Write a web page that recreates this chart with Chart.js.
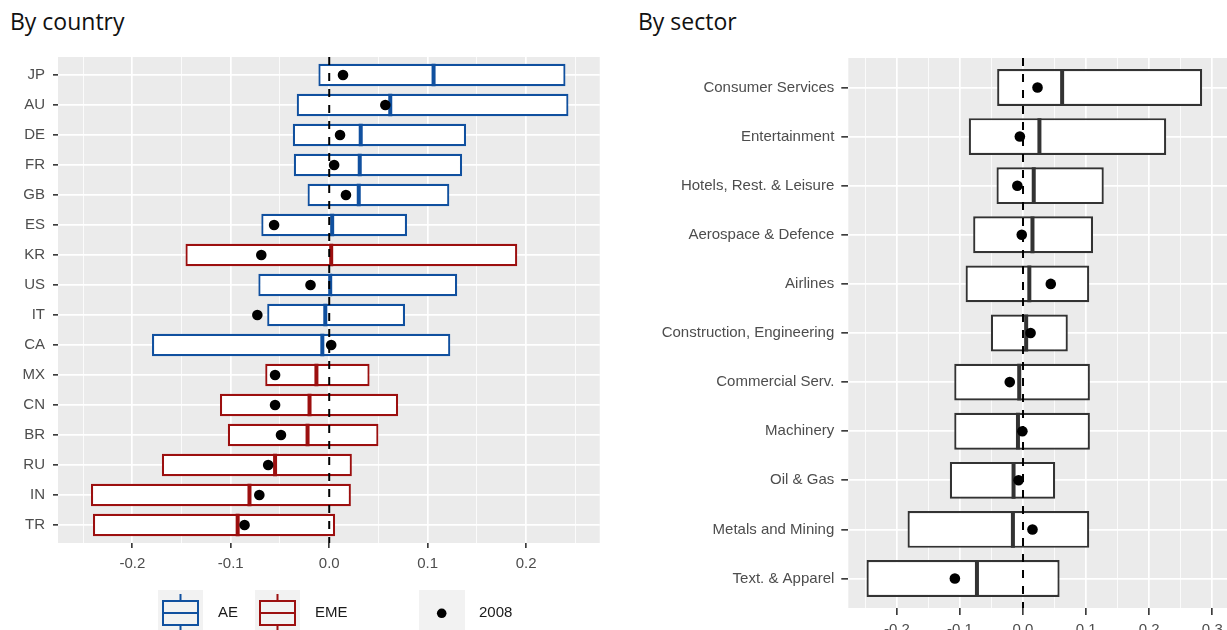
<!DOCTYPE html>
<html>
<head>
<meta charset="utf-8">
<title>By country / By sector</title>
<script src="https://cdn.jsdelivr.net/npm/chart.js@4.4.1/dist/chart.umd.min.js"></script>
<style>
  html, body { margin: 0; padding: 0; background: #fff; overflow: hidden; }
  body { width: 1227px; height: 630px; position: relative; }
  .title {
    position: absolute; top: 10px;
    font-family: "Open Sans", "Noto Sans", sans-serif;
    font-size: 23px; line-height: 23px; color: #111; white-space: nowrap;
  }
  #countryWrap { position: absolute; left: 0; top: 0; width: 615px; height: 630px; }
  #sectorWrap { position: absolute; left: 620px; top: 0; width: 657px; height: 650px; }
</style>
</head>
<body>
<div class="title" style="left:10px">By country</div>
<div class="title" style="left:638px">By sector</div>
<div id="countryWrap"><canvas id="countryChart"></canvas></div>
<div id="sectorWrap"><canvas id="sectorChart"></canvas></div>

<script>
/* =========================
   DATA – BY COUNTRY
========================= */
const countries = ["JP", "AU", "DE", "FR", "GB", "ES", "KR", "US", "IT", "CA", "MX", "CN", "BR", "RU", "IN", "TR"];
const countryGroup = ["AE", "AE", "AE", "AE", "AE", "AE", "EME", "AE", "AE", "AE", "EME", "EME", "EME", "EME", "EME", "EME"];
const countryLow = [-0.011, -0.033, -0.037, -0.036, -0.022, -0.069, -0.146, -0.072, -0.063, -0.180, -0.065, -0.111, -0.103, -0.170, -0.242, -0.240];
const countryMedian = [0.106, 0.062, 0.032, 0.031, 0.030, 0.003, 0.002, 0.001, -0.004, -0.007, -0.013, -0.020, -0.022, -0.055, -0.081, -0.093];
const countryHigh = [0.240, 0.243, 0.139, 0.135, 0.122, 0.079, 0.191, 0.130, 0.077, 0.123, 0.041, 0.070, 0.050, 0.023, 0.022, 0.006];
const country2008 = [0.014, 0.057, 0.011, 0.005, 0.017, -0.056, -0.069, -0.019, -0.073, 0.002, -0.055, -0.055, -0.049, -0.062, -0.071, -0.086];

/* =========================
   DATA – BY SECTOR
========================= */
const sectors = ["Consumer Services", "Entertainment", "Hotels, Rest. & Leisure", "Aerospace & Defence", "Airlines",
  "Construction, Engineering", "Commercial Serv.", "Machinery", "Oil & Gas", "Metals and Mining", "Text. & Apparel"];
const sectorLow = [-0.041, -0.086, -0.042, -0.079, -0.091, -0.051, -0.109, -0.109, -0.116, -0.183, -0.248];
const sectorMedian = [0.062, 0.026, 0.017, 0.015, 0.010, 0.005, -0.006, -0.008, -0.015, -0.016, -0.073];
const sectorHigh = [0.284, 0.227, 0.128, 0.111, 0.105, 0.071, 0.106, 0.106, 0.051, 0.105, 0.058];
const sector2008 = [0.023, -0.005, -0.009, -0.002, 0.044, 0.012, -0.021, -0.001, -0.007, 0.015, -0.108];

const groupNames = ["AE", "EME"];
const dotLabel = "2008";
const zeroRef = 0;

const groupColors = { AE: "#10509f", EME: "#9c0f0f" };
const sectorColor = "#333333";
const tickFont = { family: "'Liberation Sans', Arial, sans-serif", size: 15 };

const isMajor = (v) => Math.abs(Math.round(v * 20)) % 2 === 0;
const tickIsMajor = (c) => !c || !c.tick || isMajor(c.tick.value);

// grey ggplot-style panel behind the plot area
const panelBg = {
  id: "panelBg",
  beforeDraw(chart) {
    const { ctx, chartArea: a } = chart;
    ctx.save();
    ctx.fillStyle = "#ebebeb";
    ctx.fillRect(a.left, a.top, a.right - a.left, a.bottom - a.top);
    ctx.restore();
  }
};

function boxPanel(el, o) {
  const n = o.cats.length;
  const yMin = -0.6;
  const yMax = n - 1 + 0.6;

  return new Chart(el, {
    type: "bar",
    data: {
      datasets: [
        {
          type: "scatter",
          label: dotLabel,
          data: o.dots.map((v, i) => ({ x: v, y: i })),
          pointRadius: 5.3,
          pointBackgroundColor: "#000",
          pointBorderColor: "#000",
          pointBorderWidth: 0,
          order: 0
        },
        {
          type: "line",
          label: "zero",
          data: [{ x: zeroRef, y: yMin }, { x: zeroRef, y: yMax }],
          borderColor: "#000",
          borderWidth: 2,
          borderDash: [8, 8],
          pointRadius: 0,
          fill: false,
          order: 1
        },
        {
          type: "scatter",
          label: "median",
          data: o.med.map((v, i) => ({ x: v, y: i })),
          pointStyle: "line",
          pointRotation: 90,
          pointRadius: o.halfBox,
          pointBorderColor: o.colors,
          pointBorderWidth: 4,
          order: 2
        },
        {
          type: "bar",
          label: "range",
          indexAxis: "y",
          data: o.low.map((v, i) => ({ x: [v, o.high[i]], y: i })),
          backgroundColor: "#fff",
          borderColor: o.colors,
          borderWidth: 2.2,
          borderSkipped: false,
          categoryPercentage: 1,
          barPercentage: 0.75,
          order: 3
        }
      ]
    },
    options: {
      responsive: true,
      maintainAspectRatio: false,
      animation: false,
      events: [],
      layout: { padding: o.padding },
      plugins: {
        legend: { display: false },
        tooltip: { enabled: false }
      },
      scales: {
        x: {
          type: "linear",
          position: "bottom",
          min: o.xMin,
          max: o.xMax,
          offset: false,
          border: { display: false },
          grid: {
            offset: false,
            color: "#ffffff",
            lineWidth: (c) => (tickIsMajor(c) ? 1.7 : 0.8),
            drawTicks: true,
            tickLength: o.tickLen,
            tickWidth: 1.6,
            tickColor: (c) => (tickIsMajor(c) ? "#333333" : "rgba(0,0,0,0)")
          },
          ticks: {
            stepSize: 0.05,
            includeBounds: false,
            autoSkip: false,
            maxRotation: 0,
            padding: o.xPad,
            color: "#4d4d4d",
            font: tickFont,
            callback: (v) => (isMajor(v) ? v.toFixed(1) : "")
          },
          afterFit: (s) => { s.height = o.xAxisH; }
        },
        y: {
          type: "linear",
          position: "left",
          reverse: true,
          min: yMin,
          max: yMax,
          offset: false,
          border: { display: false },
          grid: {
            offset: false,
            color: "#ffffff",
            lineWidth: 1.7,
            tickLength: o.tickLen,
            tickWidth: 1.6,
            tickColor: "#333333"
          },
          ticks: {
            stepSize: 1,
            includeBounds: false,
            autoSkip: false,
            padding: o.yPad,
            color: "#4d4d4d",
            font: tickFont,
            callback: (v) => (Number.isInteger(v) && o.cats[v] !== undefined ? o.cats[v] : "")
          },
          afterFit: (s) => { s.width = o.yAxisW; }
        }
      }
    },
    plugins: [panelBg].concat(o.extraPlugins || [])
  });
}

/* =========================
   LEGEND – BY COUNTRY
========================= */
const countryLegend = {
  id: "countryLegend",
  afterDraw(chart) {
    const { ctx } = chart;
    ctx.save();
    const keys = [
      { x: 158, w: 45, color: groupColors[groupNames[0]], text: groupNames[0], tx: 218 },
      { x: 255, w: 45, color: groupColors[groupNames[1]], text: groupNames[1], tx: 315 }
    ];
    ctx.font = "15px 'Liberation Sans', Arial, sans-serif";
    ctx.textBaseline = "middle";
    ctx.textAlign = "left";
    keys.forEach((k) => {
      ctx.fillStyle = "#f2f2f2";
      ctx.fillRect(k.x, 590, k.w, 45);
      ctx.strokeStyle = k.color;
      ctx.lineWidth = 2;
      const cx = k.x + k.w / 2;
      ctx.strokeRect(k.x + 5, 601, k.w - 10, 24);
      ctx.beginPath();
      ctx.moveTo(k.x + 5, 613); ctx.lineTo(k.x + k.w - 5, 613);
      ctx.moveTo(cx, 594); ctx.lineTo(cx, 601);
      ctx.moveTo(cx, 625); ctx.lineTo(cx, 635);
      ctx.stroke();
      ctx.fillStyle = "#1a1a1a";
      ctx.fillText(k.text, k.tx, 613);
    });
    ctx.fillStyle = "#f2f2f2";
    ctx.fillRect(419, 590, 46, 45);
    ctx.fillStyle = "#000";
    ctx.beginPath();
    ctx.arc(441.7, 613.3, 4.8, 0, Math.PI * 2);
    ctx.fill();
    ctx.fillStyle = "#1a1a1a";
    ctx.fillText(dotLabel, 479, 613);
    ctx.restore();
  }
};

const countryCtx = document.getElementById("countryChart");
if (countryCtx) {
  boxPanel(countryCtx, {
    cats: countries,
    low: countryLow,
    med: countryMedian,
    high: countryHigh,
    dots: country2008,
    colors: countryGroup.map((g) => groupColors[g]),
    halfBox: 11.25,
    xMin: -0.2755,
    xMax: 0.2748,
    padding: { left: 0, top: 57, right: 15, bottom: 57 },
    xAxisH: 30,
    yAxisW: 58,
    tickLen: 5,
    xPad: 7,
    yPad: 8,
    extraPlugins: [countryLegend]
  });
}

// the sector canvas runs 50px past the window edge, so its plot area ends at the edge
const sectorCtx = document.getElementById("sectorChart");
if (sectorCtx) {
  boxPanel(sectorCtx, {
    cats: sectors,
    low: sectorLow,
    med: sectorMedian,
    high: sectorHigh,
    dots: sector2008,
    colors: sectors.map(() => sectorColor),
    halfBox: 18.4,
    xMin: -0.2769,
    xMax: 0.3233,
    padding: { left: 0, top: 58, right: 50, bottom: 0 },
    xAxisH: 42,
    yAxisW: 228.3,
    tickLen: 7,
    xPad: 6,
    yPad: 7
  });
}
</script>
</body>
</html>
